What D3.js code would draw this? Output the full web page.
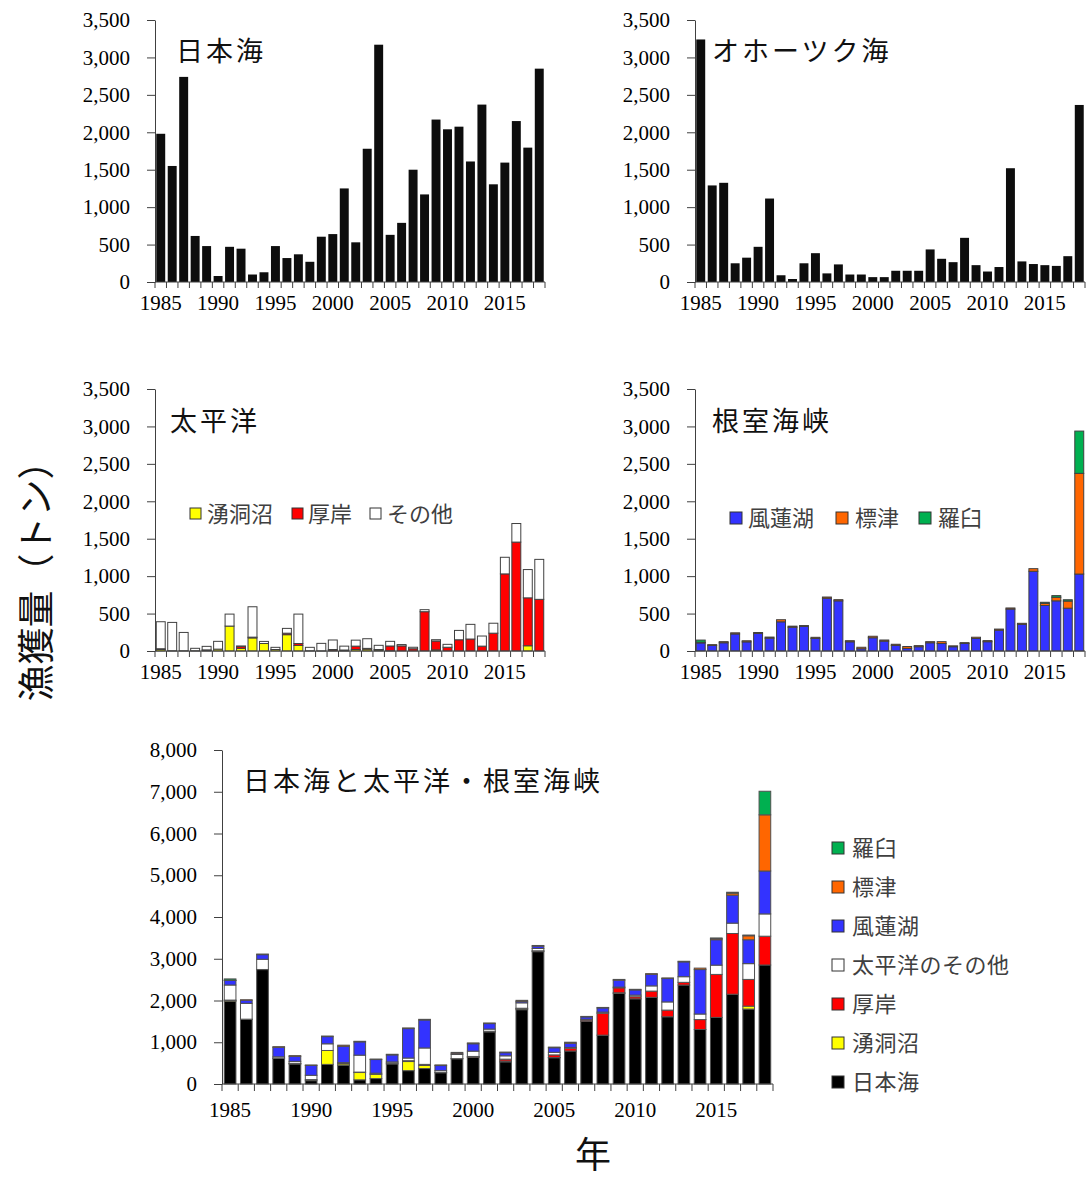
<!DOCTYPE html>
<html><head><meta charset="utf-8">
<script src="https://cdn.jsdelivr.net/npm/d3@7"></script>
<style>body{margin:0;background:#fff} svg{display:block}</style>
</head><body><svg id="c" width="1086" height="1180"></svg>
<script>
// ---------------- data ----------------
const years = [1985,1986,1987,1988,1989,1990,1991,1992,1993,1994,1995,1996,1997,1998,1999,2000,2001,2002,2003,2004,2005,2006,2007,2008,2009,2010,2011,2012,2013,2014,2015,2016,2017,2018];
const tickYears = [1985,1990,1995,2000,2005,2010,2015];
const yTicksSmall = [0,500,1000,1500,2000,2500,3000,3500];
const yTicksTotal = [0,1000,2000,3000,4000,5000,6000,7000,8000];

const japanSea = [1980,1550,2740,615,480,80,470,445,100,130,480,320,370,270,605,640,1250,530,1780,3170,630,790,1500,1170,2170,2040,2075,1610,2370,1305,1595,2150,1795,2850];
const okhotsk  = [3240,1290,1325,250,325,470,1115,90,40,250,385,115,235,100,100,65,65,150,150,150,435,310,265,590,225,140,200,1520,275,240,225,215,345,2365];

// Pacific
const yudonuma     = [20,3,3,3,5,25,333,36,175,100,20,218,75,3,2,5,3,20,25,15,3,0,0,0,15,0,0,0,0,0,0,0,70,0];
const akkeshi      = [10,0,0,0,10,0,0,25,10,0,0,20,25,0,0,15,10,45,10,5,64,68,30,525,118,50,150,160,65,238,1030,1455,640,690];
const pacificOther = [361,379,245,33,47,104,160,6,406,28,29,64,393,46,100,127,52,80,129,56,62,18,20,27,18,39,125,196,135,133,222,248,378,534];

// Nemuro Strait
const furen    = [108,75,110,228,122,235,172,390,318,328,168,705,670,123,30,177,132,75,35,57,110,100,57,100,167,124,278,560,355,1065,608,670,572,1028];
const shibetsu = [8,10,15,15,15,12,14,28,14,12,15,16,16,15,20,20,15,15,25,15,15,25,12,12,17,15,15,15,15,35,28,48,95,1345];
const rausu    = [30,0,0,0,0,0,0,0,0,0,0,0,0,0,0,0,0,0,0,0,0,0,0,0,0,0,0,0,0,0,15,22,18,565];

// ---------------- styles ----------------
const serif = '"Liberation Serif","Times New Roman",serif';
const jp = '"Noto Sans CJK JP","Noto Sans",sans-serif';
const C = {black:'#0d0d0d', yellow:'#ffff00', red:'#ff0000', white:'#ffffff', blue:'#3333ff', orange:'#ff6600', green:'#00b050'};
const axisColor = '#404040';

const svg = d3.select('#c');

function panel(o) {
  const x = d3.scaleBand().domain(years).range([o.x0, o.x1]).paddingInner(o.pad).paddingOuter(o.pad/2);
  const y = d3.scaleLinear().domain([0, o.max]).range([o.y0, o.y1]);
  const g = svg.append('g');
  const rows = years.map((yr, i) => { const r = {year: yr}; o.series.forEach(s => r[s.key] = s.values[i]); return r; });
  const layers = d3.stack().keys(o.series.map(s => s.key))(rows);
  layers.forEach((layer, li) => {
    g.append('g').selectAll('rect').data(layer.filter(d => d[1] - d[0] > 0)).join('rect')
      .attr('x', d => x(d.data.year)).attr('width', x.bandwidth())
      .attr('y', d => y(d[1])).attr('height', d => y(d[0]) - y(d[1]))
      .attr('fill', o.series[li].color)
      .attr('stroke', o.stroke || 'none').attr('stroke-width', o.stroke ? 1 : 0);
  });
  // y axis
  const ya = g.append('g').attr('transform', `translate(${o.x0},0)`)
    .call(d3.axisLeft(y).tickValues(o.ticks).tickSize(8).tickSizeOuter(0).tickPadding(17).tickFormat(d3.format(',')));
  ya.select('.domain').attr('stroke', axisColor);
  ya.selectAll('.tick line').attr('stroke', axisColor);
  ya.selectAll('text').attr('font-family', serif).attr('font-size', 21).attr('fill', '#000');
  // x axis line
  g.append('line').attr('x1', o.x0).attr('x2', o.x1).attr('y1', o.y0).attr('y2', o.y0).attr('stroke', axisColor);
  const off = x.step() * x.paddingInner() / 2;
  const bounds = years.map(yr => x(yr) - off).concat([o.x1]);
  g.append('g').selectAll('line').data(bounds).join('line')
    .attr('x1', d => d).attr('x2', d => d).attr('y1', o.y0).attr('y2', o.y0 + o.tick)
    .attr('stroke', axisColor);
  g.append('g').selectAll('text').data(tickYears).join('text')
    .attr('x', d => x(d) + x.bandwidth() / 2).attr('y', o.y0 + o.labelOff)
    .attr('text-anchor', 'middle').attr('font-family', serif).attr('font-size', 21).text(d => d);
  // title
  g.append('text').attr('x', o.tx).attr('y', o.ty).attr('font-family', jp).attr('font-size', 27)
    .attr('letter-spacing', 3).attr('fill', '#111').text(o.title);
  return {x, y, g};
}

function legendRow(items, sqY, sqSize, textY) {
  const g = svg.append('g');
  items.forEach(it => {
    g.append('rect').attr('x', it.sx).attr('y', sqY).attr('width', sqSize).attr('height', sqSize)
      .attr('fill', it.color).attr('stroke', '#333').attr('stroke-width', 1);
    g.append('text').attr('x', it.tx).attr('y', textY).attr('font-family', jp).attr('font-size', 22)
      .attr('fill', '#404040').text(it.label);
  });
}

// Top-left: 日本海
panel({x0:155, x1:545, y0:282, y1:20, max:3500, ticks:yTicksSmall, pad:0.22, tick:6, labelOff:28,
  series:[{key:'japanSea', values:japanSea, color:C.black}], title:'日本海', tx:176, ty:61});

// Top-right: オホーツク海
panel({x0:695, x1:1085, y0:282, y1:20, max:3500, ticks:yTicksSmall, pad:0.22, tick:6, labelOff:28,
  series:[{key:'okhotsk', values:okhotsk, color:C.black}], title:'オホーツク海', tx:712, ty:61});

// Middle-left: 太平洋
panel({x0:155, x1:545, y0:651, y1:389, max:3500, ticks:yTicksSmall, pad:0.22, tick:6, labelOff:28, stroke:'#404040',
  series:[{key:'yudonuma', values:yudonuma, color:C.yellow},
          {key:'akkeshi', values:akkeshi, color:C.red},
          {key:'pacificOther', values:pacificOther, color:C.white}],
  title:'太平洋', tx:170, ty:431});
legendRow([
  {label:'湧洞沼', color:C.yellow, sx:190, tx:207},
  {label:'厚岸', color:C.red, sx:292, tx:308},
  {label:'その他', color:C.white, sx:370, tx:387}], 508, 11, 522);

// Middle-right: 根室海峡
panel({x0:695, x1:1085, y0:651, y1:389, max:3500, ticks:yTicksSmall, pad:0.22, tick:6, labelOff:28, stroke:'#404040',
  series:[{key:'furen', values:furen, color:C.blue},
          {key:'shibetsu', values:shibetsu, color:C.orange},
          {key:'rausu', values:rausu, color:C.green}],
  title:'根室海峡', tx:712, ty:431});
legendRow([
  {label:'風蓮湖', color:C.blue, sx:730, tx:748},
  {label:'標津', color:C.orange, sx:836, tx:855},
  {label:'羅臼', color:C.green, sx:919, tx:938}], 512, 12, 526);

// Bottom: combined
panel({x0:222, x1:773, y0:1084, y1:750, max:8000, ticks:yTicksTotal, pad:0.28, tick:7, labelOff:33, stroke:'#505050',
  series:[{key:'japanSea', values:japanSea, color:'#000'},
          {key:'yudonuma', values:yudonuma, color:C.yellow},
          {key:'akkeshi', values:akkeshi, color:C.red},
          {key:'pacificOther', values:pacificOther, color:C.white},
          {key:'furen', values:furen, color:C.blue},
          {key:'shibetsu', values:shibetsu, color:C.orange},
          {key:'rausu', values:rausu, color:C.green}],
  title:'日本海と太平洋・根室海峡', tx:243, ty:791});

// Bottom legend (vertical)
const bottomLegend = [
  {label:'羅臼', color:C.green},
  {label:'標津', color:C.orange},
  {label:'風蓮湖', color:C.blue},
  {label:'太平洋のその他', color:C.white},
  {label:'厚岸', color:C.red},
  {label:'湧洞沼', color:C.yellow},
  {label:'日本海', color:'#000'}];
const lg = svg.append('g');
const ly = d3.scalePoint().domain(bottomLegend.map(d => d.label)).range([848, 1082]);
bottomLegend.forEach(it => {
  lg.append('rect').attr('x', 832).attr('y', ly(it.label) - 6).attr('width', 12).attr('height', 12)
    .attr('fill', it.color).attr('stroke', '#333');
  lg.append('text').attr('x', 852).attr('y', ly(it.label) + 8).attr('font-family', jp).attr('font-size', 22)
    .attr('letter-spacing', 0.5).attr('fill', '#404040').text(it.label);
});

// Axis titles
svg.append('text').attr('transform', 'translate(50,572) rotate(-90)').attr('text-anchor', 'middle')
  .attr('font-family', jp).attr('font-size', 37).attr('fill', '#111').text('漁獲量（トン）');
svg.append('text').attr('x', 593).attr('y', 1168).attr('text-anchor', 'middle')
  .attr('font-family', jp).attr('font-size', 36).attr('fill', '#111').text('年');
</script></body></html>
